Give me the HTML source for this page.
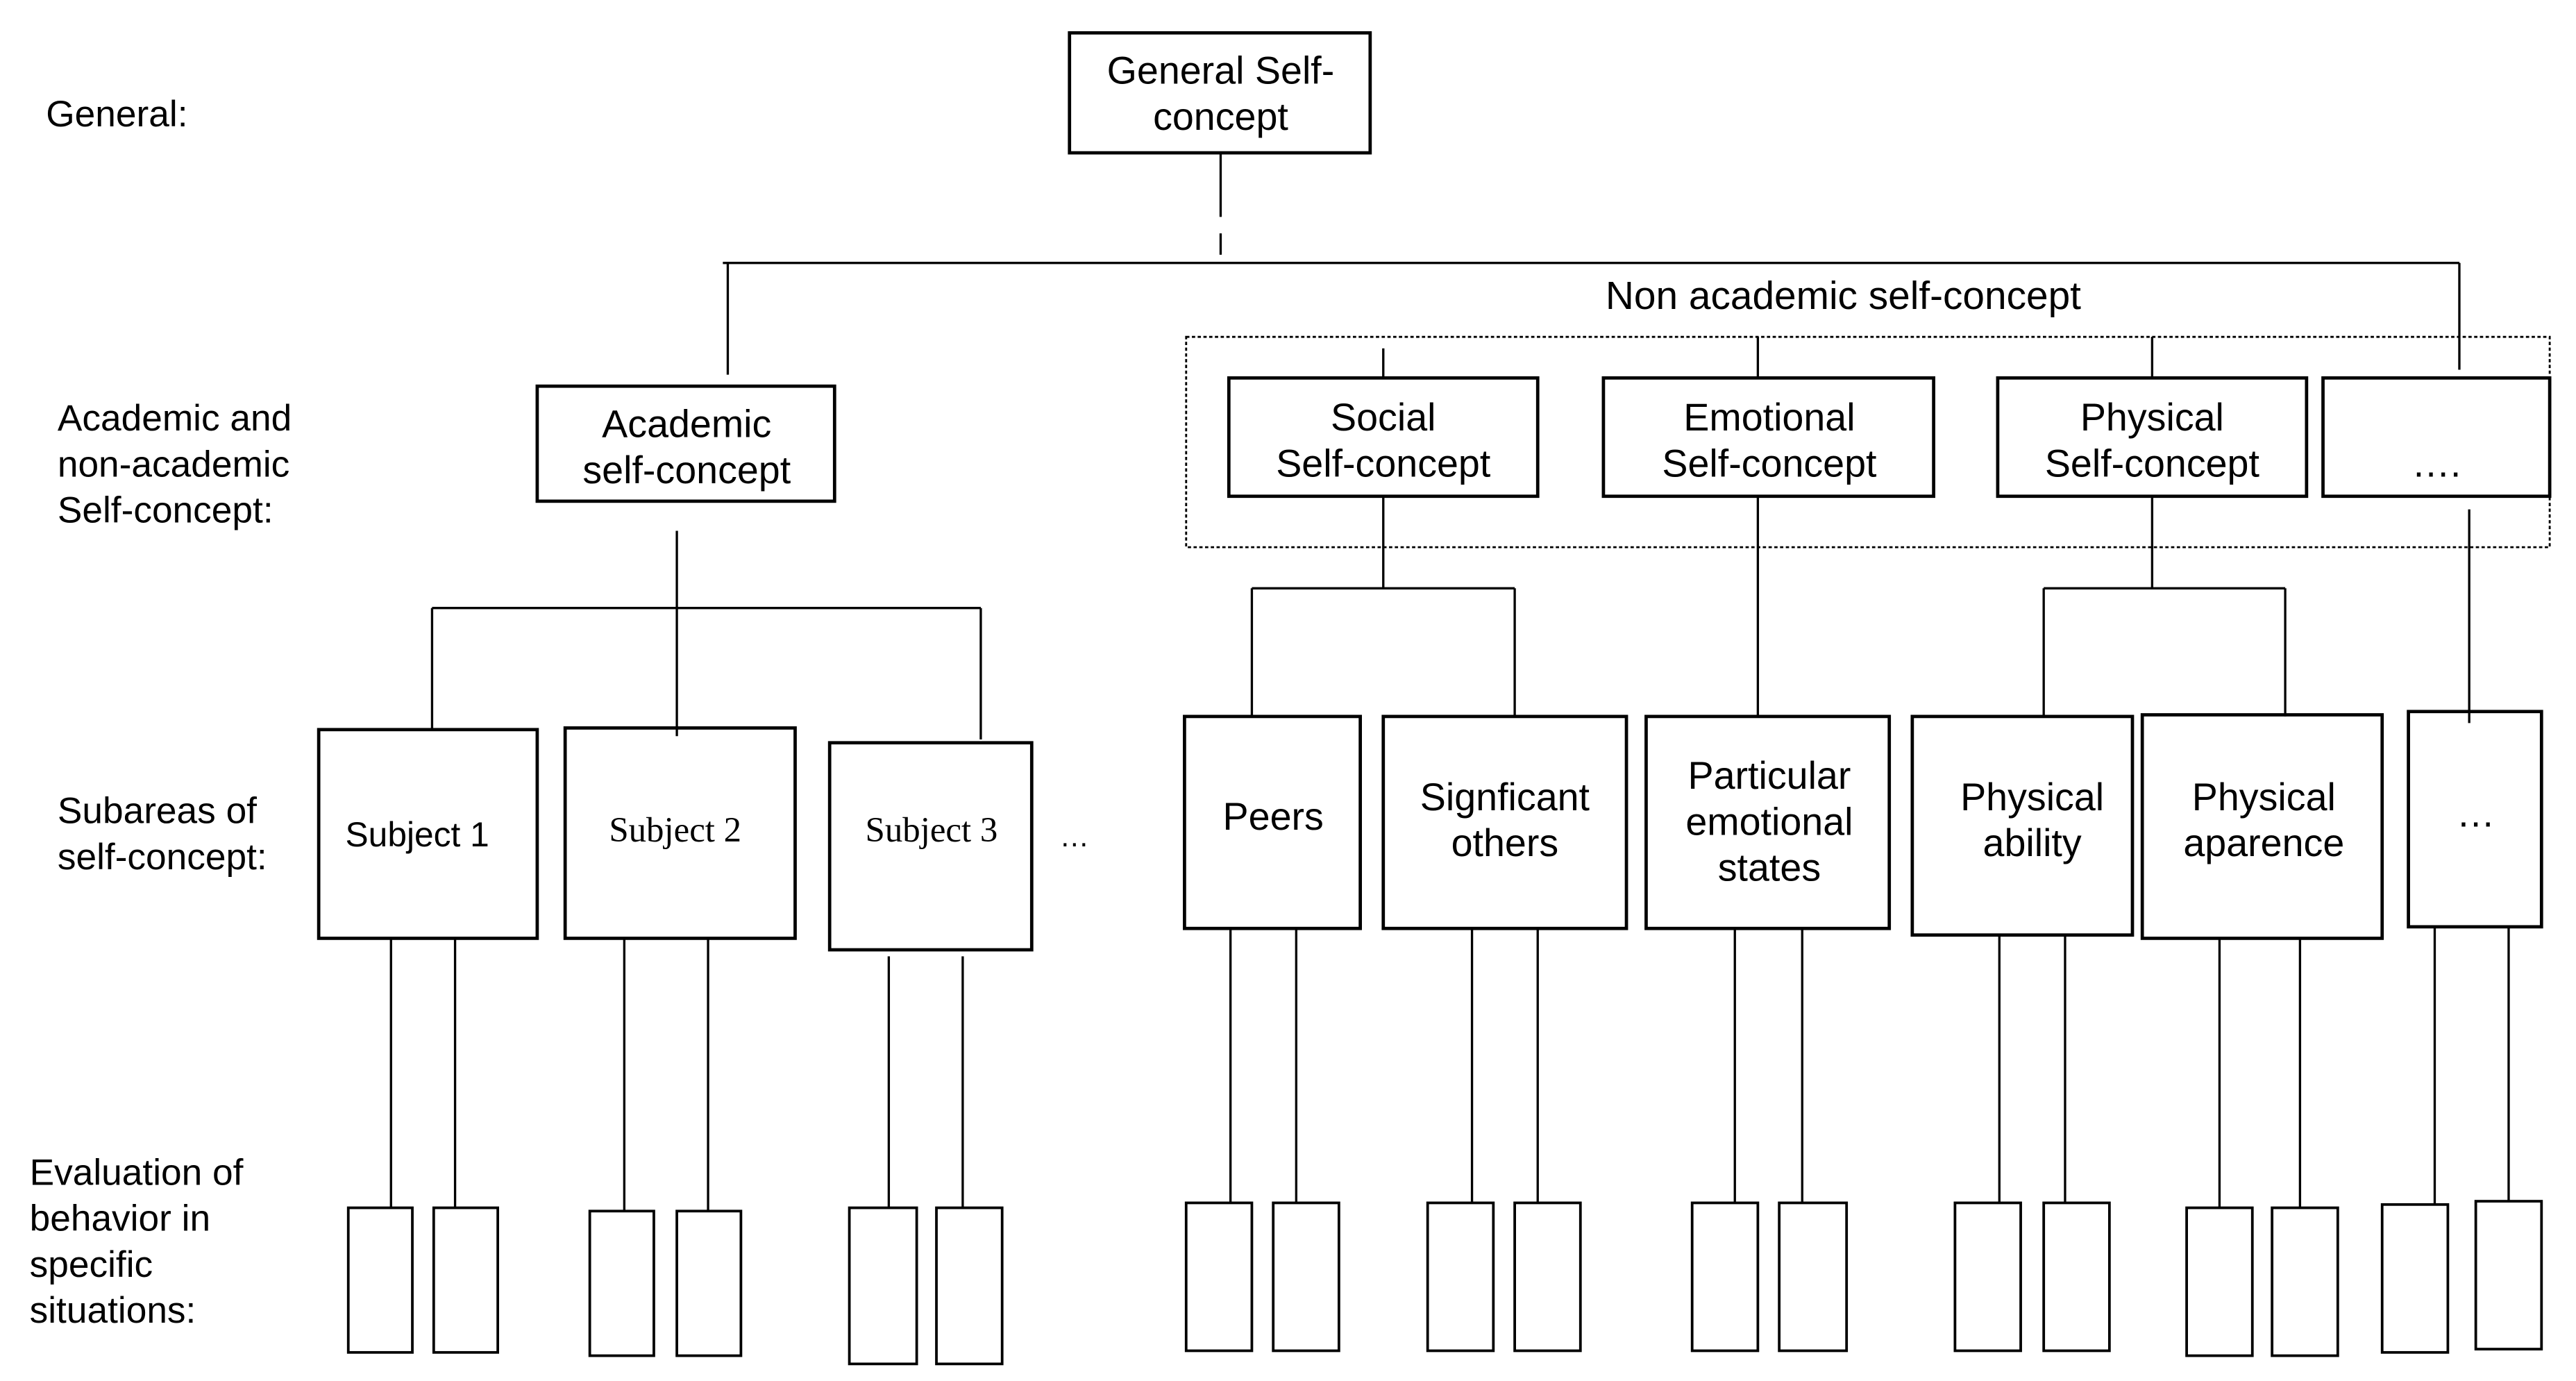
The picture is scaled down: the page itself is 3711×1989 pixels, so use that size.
<!DOCTYPE html>
<html><head><meta charset="utf-8"><style>html,body{margin:0;padding:0;background:#fff;}svg{display:block}</style></head>
<body>
<svg width="3711" height="1989" viewBox="0 0 1568 840.4" preserveAspectRatio="none" xmlns="http://www.w3.org/2000/svg">
<g fill="none" stroke="#000">
<g stroke-width="2">
<rect x="651" y="20" width="183" height="73"/>
<rect x="327" y="235" width="181" height="70"/>
<rect x="748" y="230" width="188" height="72"/>
<rect x="976" y="230" width="201" height="72"/>
<rect x="1216" y="230" width="188" height="72"/>
<rect x="1414" y="230" width="138" height="72"/>
<rect x="194" y="444" width="133" height="127"/>
<rect x="344" y="443" width="140" height="128"/>
<rect x="505" y="452" width="123" height="126"/>
<rect x="721" y="436" width="107" height="129"/>
<rect x="842" y="436" width="148" height="129"/>
<rect x="1002" y="436" width="148" height="129"/>
<rect x="1164" y="436" width="134" height="133"/>
<rect x="1304" y="435" width="146" height="136"/>
<rect x="1466" y="433" width="81" height="131"/>
</g>
<g stroke-width="1.6">
<rect x="212" y="735" width="39" height="88"/><rect x="264" y="735" width="39" height="88"/>
<rect x="359" y="737" width="39" height="88"/><rect x="412" y="737" width="39" height="88"/>
<rect x="517" y="735" width="41" height="95"/><rect x="570" y="735" width="40" height="95"/>
<rect x="722" y="732" width="40" height="90"/><rect x="775" y="732" width="40" height="90"/>
<rect x="869" y="732" width="40" height="90"/><rect x="922" y="732" width="40" height="90"/>
<rect x="1030" y="732" width="40" height="90"/><rect x="1083" y="732" width="41" height="90"/>
<rect x="1190" y="732" width="40" height="90"/><rect x="1244" y="732" width="40" height="90"/>
<rect x="1331" y="735" width="40" height="90"/><rect x="1383" y="735" width="40" height="90"/>
<rect x="1450" y="733" width="40" height="90"/><rect x="1507" y="731" width="40" height="90"/>
</g>
<rect x="722" y="205" width="830" height="128" stroke-width="1.2" stroke-dasharray="2,1.5"/>
<g stroke-width="1.4">
<path d="M743 93V132M743 142V155" />
<path d="M440 160H1497M443 160V228M1497 160V225"/>
<path d="M842 212V230M1070 205V230M1310 205V230"/>
<path d="M412 323V448M263 370H597M263 370V444M597 370V450"/>
<path d="M842 302V358M762 358H922M762 358V436M922 358V436"/>
<path d="M1070 302V436"/>
<path d="M1310 302V358M1244 358H1391M1244 358V436M1391 358V436"/>
<path d="M1503 310V440"/>
<path d="M238 571V735M277 571V735M380 571V737M431 571V737M541 582V735M586 582V735"/>
<path d="M749 565V732M789 565V732M896 565V732M936 565V732M1056 565V732M1097 565V732"/>
<path d="M1217 569V732M1257 569V732M1351 571V735M1400 571V735M1482 564V733M1527 564V731"/>
</g>
</g>
<g font-family="Liberation Sans, Arial, sans-serif" font-size="22.5" fill="#000">
<text x="28" y="77">General:</text>
<text x="35" y="262">Academic and</text>
<text x="35" y="290">non-academic</text>
<text x="35" y="318">Self-concept:</text>
<text x="35" y="501">Subareas of</text>
<text x="35" y="529">self-concept:</text>
<text x="18" y="721">Evaluation of</text>
<text x="18" y="749">behavior in</text>
<text x="18" y="777">specific</text>
<text x="18" y="805">situations:</text>
<g text-anchor="middle" font-size="23.5">
<text x="743" y="51">General Self-</text>
<text x="743" y="79">concept</text>
<text x="1122" y="188" font-size="24">Non academic self-concept</text>
<text x="418" y="266">Academic</text>
<text x="418" y="294">self-concept</text>
<text x="842" y="262">Social</text>
<text x="842" y="290">Self-concept</text>
<text x="1077" y="262">Emotional</text>
<text x="1077" y="290">Self-concept</text>
<text x="1310" y="262">Physical</text>
<text x="1310" y="290">Self-concept</text>
<text x="1483" y="290">….</text>
<text x="254" y="515" font-size="21">Subject 1</text>
<text x="411" y="512" font-family="Liberation Serif, serif" font-size="21.5">Subject 2</text>
<text x="567" y="512" font-family="Liberation Serif, serif" font-size="21.5">Subject 3</text>
<text x="654" y="515" font-size="18">…</text>
<text x="775" y="505">Peers</text>
<text x="916" y="493">Signficant</text>
<text x="916" y="521">others</text>
<text x="1077" y="480">Particular</text>
<text x="1077" y="508">emotional</text>
<text x="1077" y="536">states</text>
<text x="1237" y="493">Physical</text>
<text x="1237" y="521">ability</text>
<text x="1378" y="493">Physical</text>
<text x="1378" y="521">aparence</text>
<text x="1507" y="503">…</text>
</g>
</g>
</svg>
</body></html>
